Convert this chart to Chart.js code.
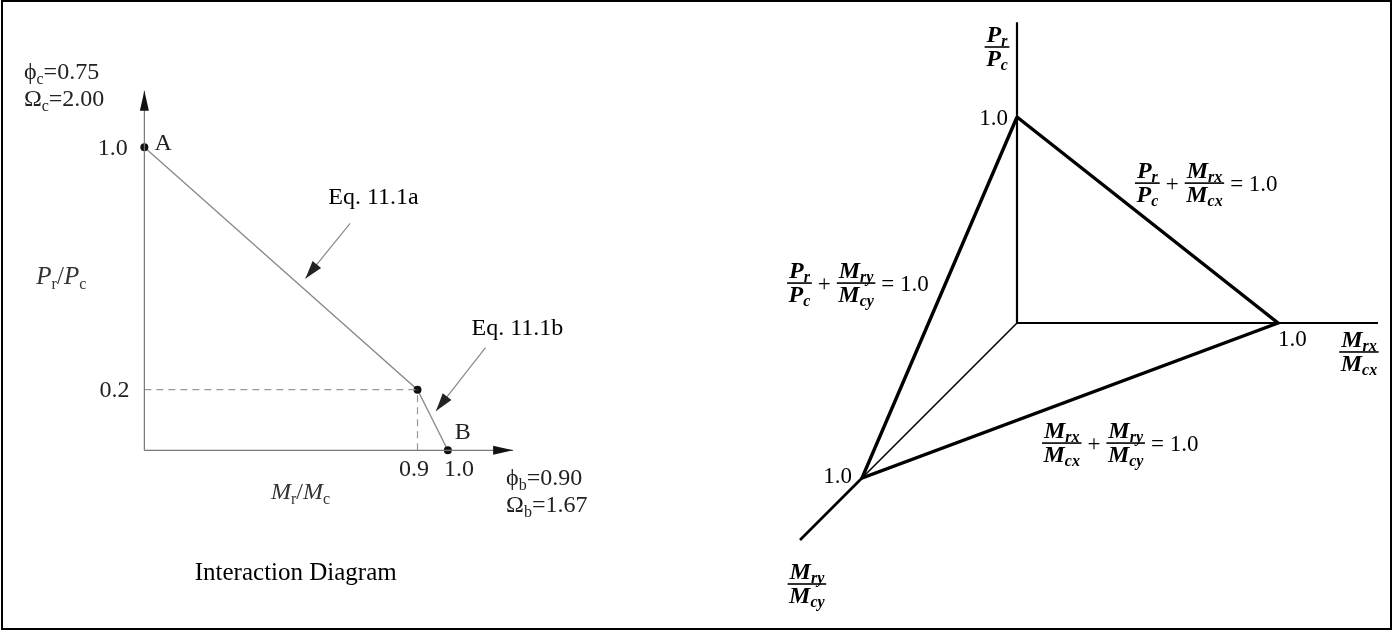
<!DOCTYPE html>
<html><head><meta charset="utf-8">
<script src="https://cdn.jsdelivr.net/npm/chart.js@4.4.0/dist/chart.umd.min.js"></script>
<style>
html,body{margin:0;padding:0;background:#fff;}
#wrap{position:relative;width:1394px;height:635px;overflow:hidden;background:#fff;}
#left{position:absolute;left:0;top:0;}
#right{position:absolute;left:697px;top:0;}
#frame{position:absolute;left:1px;top:0;width:1391px;height:630px;box-sizing:border-box;border:2px solid #000;pointer-events:none;}
</style></head><body>
<div id="wrap"><canvas id="left" width="697" height="635"></canvas><canvas id="right" width="697" height="635"></canvas><div id="frame"></div></div>
<script>
// ---------- DATA: left interaction diagram ----------
const curveMr = [0, 0.9, 1.0];          // Mr/Mc
const curvePr = [1.0, 0.2, 0.0];        // Pr/Pc
const kneeMr = 0.9, kneePr = 0.2;
const xTickValues = [0.9, 1.0];
const xTickLabels = ['0.9', '1.0'];
const yTickValues = [1.0, 0.2];
const yTickLabels = ['1.0', '0.2'];
const axisMaxMr = 1.215, axisMaxPr = 1.186;
const eqLabels = ['Eq. 11.1a', 'Eq. 11.1b'];
const eqArrowFromMr = [0.678, 1.124], eqArrowFromPr = [0.749, 0.339];
const eqArrowToMr = [0.531, 0.961],   eqArrowToPr = [0.567, 0.130];
const phiC = '0.75', omegaC = '2.00', phiB = '0.90', omegaB = '1.67';
const titleText = 'Interaction Diagram';

// ---------- DATA: right 3D interaction surface ----------
const surfMx = [0, 1, 0, 0];   // Mrx/Mcx
const surfMy = [0, 0, 1, 0];   // Mry/Mcy
const surfP  = [1, 0, 0, 1];   // Pr/Pc
const axisEndMx = 1.383, axisEndMy = 1.4, axisEndP = 1.46;
const axisTick = '1.0';

// ---------- helpers ----------
const serif = '"Liberation Serif", "Times New Roman", "DejaVu Serif", serif';
function fontOf(s){ return (s.it?'italic ':'') + (s.b?'bold ':'') + s.size + 'px ' + serif; }
function segWidth(ctx, segs){ let w=0; segs.forEach(s=>{ctx.font=fontOf(s); w+=ctx.measureText(s.t).width;}); return w; }
function drawSegs(ctx, x, y, segs, align){
  const w = segWidth(ctx, segs);
  if(align==='center') x -= w/2; else if(align==='right') x -= w;
  ctx.textAlign='left'; ctx.textBaseline='alphabetic';
  segs.forEach(s=>{ctx.font=fontOf(s); ctx.fillText(s.t, x, y+(s.dy||0)); x+=ctx.measureText(s.t).width;});
  return w;
}
function arrowHead(ctx, x0, y0, x1, y1, len, half, color){
  const a = Math.atan2(y1-y0, x1-x0);
  ctx.save(); ctx.fillStyle=color; ctx.beginPath();
  ctx.moveTo(x1, y1);
  ctx.lineTo(x1 - len*Math.cos(a) + half*Math.sin(a), y1 - len*Math.sin(a) - half*Math.cos(a));
  ctx.lineTo(x1 - len*Math.cos(a) - half*Math.sin(a), y1 - len*Math.sin(a) + half*Math.cos(a));
  ctx.closePath(); ctx.fill(); ctx.restore();
}

// ---------- LEFT CHART ----------
const LPX = 307, L_OX = 142, L_OY = 452, LW = 697, LH = 635;
const L = 24, LS = 16;
const n = (t,size=L)=>({t,size});
const it = (t,size=L)=>({t,size,it:true});
const sb = (t)=>({t,size:LS,dy:5});

const leftText = [
  {x:-0.055, y:0.974, a:'right', c:'#222', s:[n(yTickLabels[0])]},
  {x:-0.049, y:0.176, a:'right', c:'#222', s:[n(yTickLabels[1])]},
  {x:0.938, y:-0.085, a:'right', c:'#222', s:[n(xTickLabels[0])]},
  {x:0.987, y:-0.085, a:'left', c:'#222', s:[n(xTickLabels[1])]},
  {x:0.033, y:0.990, a:'left', c:'#222', s:[n('A')]},
  {x:1.023, y:0.036, a:'left', c:'#222', s:[n('B')]},
  {x:0.606, y:0.814, a:'left', c:'#000', s:[n(eqLabels[0])]},
  {x:1.078, y:0.381, a:'left', c:'#000', s:[n(eqLabels[1])]},
  {x:-0.356, y:0.550, a:'left', c:'#333', s:[it('P',25), sb('r'), n('/',25), it('P',25), sb('c')]},
  {x:0.417, y:-0.160, a:'left', c:'#333', s:[it('M'), sb('r'), n('/'), it('M'), sb('c')]},
  {x:-0.397, y:1.225, a:'left', c:'#222', s:[n('\u03D5'), sb('c'), n('='+phiC)]},
  {x:-0.397, y:1.137, a:'left', c:'#222', s:[n('\u03A9'), sb('c'), n('='+omegaC)]},
  {x:1.192, y:-0.114, a:'left', c:'#222', s:[n('\u03D5'), sb('b'), n('='+phiB)]},
  {x:1.192, y:-0.205, a:'left', c:'#222', s:[n('\u03A9'), sb('b'), n('='+omegaB)]},
  {x:0.166, y:-0.427, a:'left', c:'#000', s:[n(titleText, 25)]},
];

const pts = (xs, ys) => xs.map((x,i)=>({x, y:ys[i]}));
const leftDatasets = [
  {data:pts([0, axisMaxMr],[0,0]), borderColor:'#777', borderWidth:1.2, pointRadius:0, arrow:{len:20,half:4.5,color:'#111'}},
  {data:pts([0,0],[0, axisMaxPr]), borderColor:'#777', borderWidth:1.2, pointRadius:0, arrow:{len:20,half:4.5,color:'#111'}},
  {data:pts([0,kneeMr],[kneePr,kneePr]), borderColor:'#999', borderWidth:1.2, borderDash:[7,5], pointRadius:0},
  {data:pts([kneeMr,kneeMr],[0,kneePr]), borderColor:'#999', borderWidth:1.2, borderDash:[7,5], pointRadius:0},
  {data:pts([eqArrowFromMr[0],eqArrowToMr[0]],[eqArrowFromPr[0],eqArrowToPr[0]]), borderColor:'#888', borderWidth:1.2, pointRadius:0, arrow:{len:18,half:5.5,color:'#222'}},
  {data:pts([eqArrowFromMr[1],eqArrowToMr[1]],[eqArrowFromPr[1],eqArrowToPr[1]]), borderColor:'#888', borderWidth:1.2, pointRadius:0, arrow:{len:18,half:5.5,color:'#222'}},
  {data:pts(curveMr, curvePr), borderColor:'#888', borderWidth:1.3, pointRadius:4, pointBackgroundColor:'#111', pointBorderColor:'#111', pointBorderWidth:0},
];

const arrowPlugin = {
  id:'arrows',
  afterDatasetsDraw(chart){
    const ctx = chart.ctx;
    chart.data.datasets.forEach((ds, i)=>{
      if(!ds.arrow) return;
      const m = chart.getDatasetMeta(i).data;
      const a = m[m.length-2], b = m[m.length-1];
      arrowHead(ctx, a.x, a.y, b.x, b.y, ds.arrow.len, ds.arrow.half, ds.arrow.color);
    });
  }
};
const leftTextPlugin = {
  id:'leftText',
  afterDraw(chart){
    const ctx = chart.ctx, xs = chart.scales.x, ys = chart.scales.y;
    ctx.save();
    leftText.forEach(l=>{ ctx.fillStyle=l.c; drawSegs(ctx, xs.getPixelForValue(l.x), ys.getPixelForValue(l.y), l.s, l.a); });
    ctx.restore();
  }
};

new Chart(document.getElementById('left'), {
  type:'line',
  data:{datasets:leftDatasets.map(d=>Object.assign({showLine:true, fill:false, tension:0, borderCapStyle:'butt'}, d))},
  options:{
    responsive:false, animation:false, events:[],
    layout:{padding:0},
    plugins:{legend:{display:false}, tooltip:{enabled:false}},
    scales:{
      x:{type:'linear', display:false, min:-L_OX/LPX, max:(LW-L_OX)/LPX},
      y:{type:'linear', display:false, min:-(LH-L_OY)/LPX, max:L_OY/LPX}
    }
  },
  plugins:[arrowPlugin, leftTextPlugin]
});

// ---------- RIGHT CHART (oblique projection of 3D axes) ----------
const RPX = 261, R_OX = 1017-697, R_OY = 323, RW = 697, RH = 635;
const KMY = 155/261, KP = 206/261;
const proj = (mx, my, p) => ({x: mx - KMY*my, y: KP*p - KMY*my});
const line3 = (a, b) => [proj(...a), proj(...b)];

const rightDatasets = [
  {data:line3([0,0,0],[0,0,axisEndP]), borderWidth:2.2},
  {data:line3([0,0,0],[axisEndMx,0,0]), borderWidth:2.2},
  {data:line3([0,0,0],[0,1,0]), borderWidth:1.6},
  {data:line3([0,1,0],[0,axisEndMy,0]), borderWidth:2.6},
  {data:surfMx.map((mx,i)=>proj(mx, surfMy[i], surfP[i])), borderWidth:3.4, borderJoinStyle:'miter'},
];

const R = 24, RS = 16, RN = 23;
const bi = (t)=>({t,size:R,it:true,b:true});
const bs = (t)=>({t,size:RS,it:true,b:true,dy:4});
const rn = (t)=>({t,size:RN});
const fracPr = [[bi('P'),bs('r')],[bi('P'),bs('c')]];
const fracMx = [[bi('M'),bs('rx')],[bi('M'),bs('cx')]];
const fracMy = [[bi('M'),bs('ry')],[bi('M'),bs('cy')]];
function drawFrac(ctx, x, bar, f, align){
  const wn = segWidth(ctx, f[0]), wd = segWidth(ctx, f[1]);
  const w = Math.max(wn, wd) + 3;
  let x0 = x; if(align==='center') x0 = x - w/2;
  drawSegs(ctx, x0 + w/2, bar - 5, f[0], 'center');
  drawSegs(ctx, x0 + w/2, bar + 19, f[1], 'center');
  ctx.fillRect(x0, bar - 0.8, w, 1.6);
  return w;
}
function drawEq(ctx, x, bar, items){
  items.forEach((it, i)=>{
    if(i>0) x += 6;
    if(Array.isArray(it)) x += drawFrac(ctx, x, bar, it, 'left');
    else x += drawSegs(ctx, x, bar + 8, [rn(it)], 'left');
  });
}
const rightFracs = [
  {x:-0.0766, y:1.0575, f:fracPr},
  {x:1.310, y:-0.111, f:fracMx},
  {x:-0.805, y:-1.0, f:fracMy},
];
const rightTicks = [
  {x:-0.0345, y:0.7586, a:'right'},
  {x:1.0, y:-0.088, a:'left'},
  {x:-0.632, y:-0.613, a:'right'},
];
const rightEqs = [
  {x:0.452, y:0.536, items:[fracPr, '+', fracMx, '= 1.0']},
  {x:-0.881, y:0.153, items:[fracPr, '+', fracMy, '= 1.0']},
  {x:0.0958, y:-0.460, items:[fracMx, '+', fracMy, '= 1.0']},
];
const rightTextPlugin = {
  id:'rightText',
  afterDraw(chart){
    const ctx = chart.ctx, xs = chart.scales.x, ys = chart.scales.y;
    ctx.save(); ctx.fillStyle='#000';
    rightFracs.forEach(l=>drawFrac(ctx, xs.getPixelForValue(l.x), ys.getPixelForValue(l.y), l.f, 'center'));
    rightTicks.forEach(l=>drawSegs(ctx, xs.getPixelForValue(l.x), ys.getPixelForValue(l.y), [rn(axisTick)], l.a));
    rightEqs.forEach(l=>drawEq(ctx, xs.getPixelForValue(l.x), ys.getPixelForValue(l.y), l.items));
    ctx.restore();
  }
};

new Chart(document.getElementById('right'), {
  type:'line',
  data:{datasets:rightDatasets.map(d=>Object.assign({showLine:true, fill:false, tension:0, pointRadius:0, borderColor:'#000', borderCapStyle:'butt'}, d))},
  options:{
    responsive:false, animation:false, events:[],
    layout:{padding:0},
    plugins:{legend:{display:false}, tooltip:{enabled:false}},
    scales:{
      x:{type:'linear', display:false, min:-R_OX/RPX, max:(RW-R_OX)/RPX},
      y:{type:'linear', display:false, min:-(RH-R_OY)/RPX, max:R_OY/RPX}
    }
  },
  plugins:[rightTextPlugin]
});
</script>
</body></html>
